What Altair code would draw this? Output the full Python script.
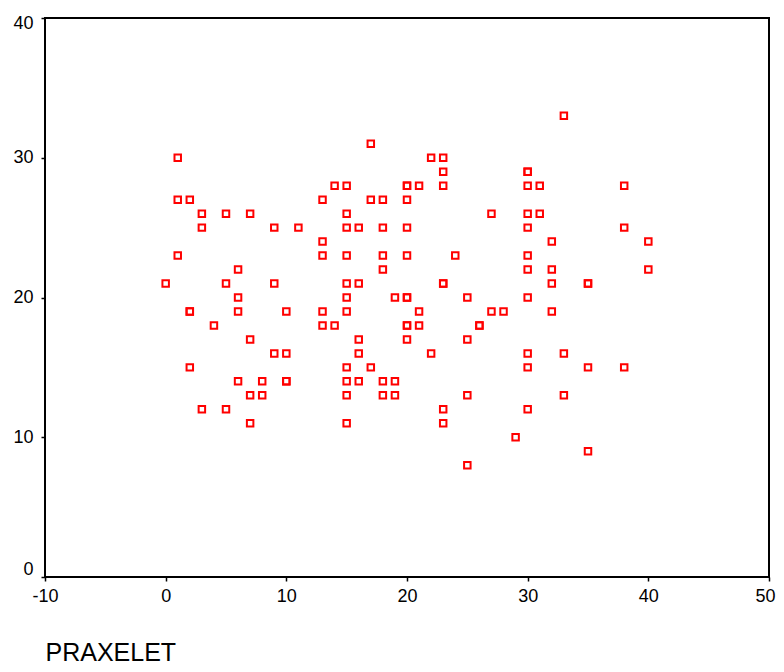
import altair as alt
import pandas as pd

# PRAXELET (x) and the second variable (y)
x_vals = [33,
          17,
          1, 22, 23,
          23, 30,
          14, 15, 20, 21, 23, 30, 31, 38,
          1, 2, 13, 17, 18, 20,
          3, 5, 7, 15, 27, 30, 31,
          3, 9, 11, 15, 16, 18, 20, 30, 38,
          13, 32, 40,
          1, 13, 15, 18, 20, 24, 30,
          6, 18, 30, 32, 40,
          0, 5, 9, 15, 16, 23, 32, 35,
          6, 15, 19, 20, 25, 30,
          2, 6, 10, 13, 15, 21, 27, 28, 32,
          4, 13, 14, 20, 21, 26,
          7, 16, 20, 25,
          9, 10, 16, 22, 30, 33,
          2, 15, 17, 30, 35, 38,
          6, 8, 10, 15, 16, 18, 19,
          7, 8, 15, 18, 19, 25, 33,
          3, 5, 23, 30,
          7, 15, 23,
          29,
          35,
          25,
          # repeated observations (drawn on top of each other)
          20, 23, 35, 20, 2, 20, 26, 10, 30]
y_vals = [33,
          31,
          30, 30, 30,
          29, 29,
          28, 28, 28, 28, 28, 28, 28, 28,
          27, 27, 27, 27, 27, 27,
          26, 26, 26, 26, 26, 26, 26,
          25, 25, 25, 25, 25, 25, 25, 25, 25,
          24, 24, 24,
          23, 23, 23, 23, 23, 23, 23,
          22, 22, 22, 22, 22,
          21, 21, 21, 21, 21, 21, 21, 21,
          20, 20, 20, 20, 20, 20,
          19, 19, 19, 19, 19, 19, 19, 19, 19,
          18, 18, 18, 18, 18, 18,
          17, 17, 17, 17,
          16, 16, 16, 16, 16, 16,
          15, 15, 15, 15, 15, 15,
          14, 14, 14, 14, 14, 14, 14,
          13, 13, 13, 13, 13, 13, 13,
          12, 12, 12, 12,
          11, 11, 11,
          10,
          9,
          8,
          28, 21, 21, 20, 19, 18, 18, 14, 29]

x_ticks = [-10, 0, 10, 20, 30, 40, 50]
y_ticks = [0, 10, 20, 30, 40]

df = pd.DataFrame({"PRAXELET": x_vals, "Y": y_vals})

FONT = "Liberation Sans"

chart = (
    alt.Chart(df)
    .mark_point(shape="square", filled=False, color="#ff0000", size=42,
                strokeWidth=2, opacity=1)
    .encode(
        x=alt.X("PRAXELET:Q",
                scale=alt.Scale(domain=[-10, 50], nice=False, zero=False),
                axis=alt.Axis(values=x_ticks, title="PRAXELET", grid=False,
                              domain=False, tickSize=4, tickWidth=1.5,
                              tickColor="black", labelFontSize=18,
                              labelFont=FONT, labelColor="black",
                              labelExpr="'' + datum.value",
                              labelPadding=6, labelFlush=False,
                              labelOffset=alt.expr("datum.value == 50 ? -4 : 0"),
                              titleFont=FONT, titleFontSize=25,
                              titleFontWeight="normal", titleColor="black",
                              titleAlign="left", titleAnchor="start",
                              titleBaseline="alphabetic",
                              titleX=0, titleY=83)),
        y=alt.Y("Y:Q",
                scale=alt.Scale(domain=[0, 40], nice=False, zero=False),
                axis=alt.Axis(values=y_ticks, title=None, grid=False,
                              domain=False, tickSize=4, tickWidth=1.5,
                              tickColor="black", labelFontSize=18,
                              labelFont=FONT, labelColor="black",
                              labelExpr="'' + datum.value",
                              labelPadding=8, labelFlush=False,
                              labelOffset=alt.expr(
                                  "datum.value == 40 ? 5 : (datum.value == 0 ? -8 : 0)"))),
    )
    .properties(width=724, height=559,
                autosize=alt.AutoSizeParams(type="none"),
                padding={"left": 37, "top": 10, "right": 7, "bottom": 87})
    .configure(background="white")
    .configure_view(stroke="black", strokeWidth=2)
)

chart.save("out.html", embed_options={"renderer": "svg", "actions": False})
